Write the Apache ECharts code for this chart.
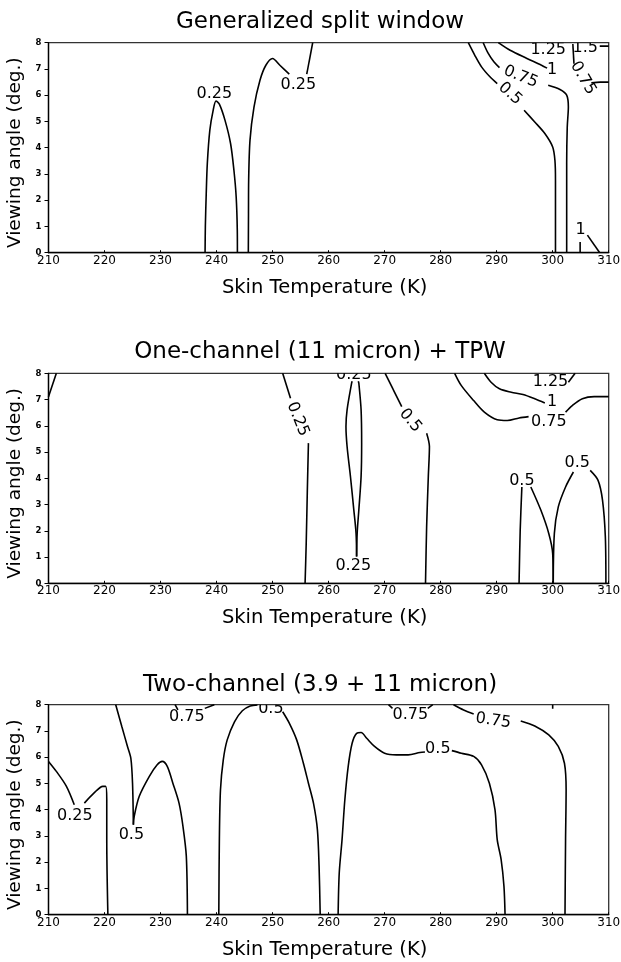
<!DOCTYPE html>
<html><head><meta charset="utf-8">
<script src="https://cdn.jsdelivr.net/npm/echarts@6/dist/echarts.min.js"></script>
<style>html,body{margin:0;padding:0;background:#fff}#c{width:621px;height:962px}</style>
</head><body><div id="c"></div>
<script>
// ---- texts & ticks ----
const panelTitles = ['Generalized split window', 'One-channel (11 micron) + TPW', 'Two-channel (3.9 + 11 micron)'];
const xAxisName = 'Skin Temperature (K)';
const yAxisName = 'Viewing angle (deg.)';
const xTicks = [210, 220, 230, 240, 250, 260, 270, 280, 290, 300, 310];
const yTicks = [0, 1, 2, 3, 4, 5, 6, 7, 8];

// ---- panel 1 contour polylines [skinT, angle] ----
const p1_a = [[237.95,0],[238.0,1.0],[238.15,2.2],[238.35,3.4],[238.8,4.67],[239.4,5.43],[239.9,5.78],[240.5,5.66],[241.5,5.05],[242.5,4.16],[243.1,3.14],[243.5,2.13],[243.7,0.86],[243.72,0]];
const p1_b = [[245.67,0],[245.7,1.5],[245.73,2.76],[245.97,4.29],[246.68,5.55],[247.75,6.57],[248.8,7.14],[250.0,7.40],[251.3,7.14],[252.98,6.80]];
const p1_c = [[256.1,6.80],[257.16,8]];
const p1_d = [[284.94,8],[286.1,7.52],[287.3,7.08],[288.8,6.70],[290.1,6.44]];
const p1_e = [[294.9,5.43],[296.8,4.98],[298.6,4.54],[300.0,4.03],[300.4,3.52],[300.5,2.76],[300.5,0]];
const p1_f = [[287.6,8],[288.5,7.59],[289.5,7.27],[290.5,7.05]];
const p1_g = [[299.2,6.38],[301.3,6.22],[302.5,6.0],[302.8,5.55],[302.6,4.79],[302.5,3.40],[302.5,0]];
const p1_h = [[290.3,8],[292.4,7.71],[295.4,7.40],[298.0,7.14],[299.0,7.03]];
const p1_i = [[303.6,7.95],[303.8,7.2]];
const p1_j = [[306.9,6.47],[308.5,6.5],[310,6.5]];
const p1_k = [[308.4,7.87],[310,7.87]];
const p1_l = [[304.9,0],[304.9,0.41]];
const p1_m = [[306.2,0.67],[308.4,0]];
const p1Lines = [p1_a,p1_b,p1_c,p1_d,p1_e,p1_f,p1_g,p1_h,p1_i,p1_j,p1_k,p1_l,p1_m];
// labels: [skinT, angle, text, rotationDeg]
const p1Labels = [[239.6,6.06,'0.25',0],[254.6,6.38,'0.25',0],[292.4,6.06,'0.5',-42],[294.3,6.7,'0.75',-22],[299.9,6.98,'1',0],[299.2,7.72,'1.25',0],[305.8,7.8,'1.5',0],[305.4,6.65,'0.75',-60],[305.0,0.86,'1',0]];

// ---- panel 2 ----
const p2_a = [[210,7.11],[211.4,8]];
const p2_b = [[251.8,8],[253.2,7.05]];
const p2_c = [[256.4,5.34],[256.2,3.5],[256.0,1.5],[255.8,0]];
const p2_d = [[264.2,7.7],[264.1,7.62],[263.3,6.61],[263.1,5.97],[263.3,5.21],[263.9,4.07],[264.5,2.80],[264.9,1.91],[265.0,1.02]];
const p2_e = [[265.3,7.7],[265.4,7.62],[265.8,6.61],[265.9,5.34],[265.8,4.07],[265.4,2.80],[265.1,1.91],[265.0,1.02]];
const p2_f = [[270.1,8],[273.05,6.73]];
const p2_g = [[277.5,5.72],[278.0,5.21],[277.8,4.07],[277.5,2.16],[277.3,0]];
const p2_h = [[282.5,8],[283.7,7.53],[285.9,6.96],[287.8,6.52],[290.1,6.23],[291.9,6.20],[294.0,6.30],[295.7,6.35]];
const p2_i = [[302.3,6.52],[303.5,6.77],[305.3,7.03],[307.4,7.11],[310,7.11]];
const p2_j = [[287.8,8],[289.0,7.66],[290.5,7.41],[292.6,7.28],[294.7,7.19],[296.8,7.03],[298.6,6.87]];
const p2_k = [[302.8,7.66],[304.0,8]];
const p2_l = [[294.0,0],[294.2,2.0],[294.5,3.67]];
const p2_m = [[296.1,3.67],[297.9,2.78],[299.3,1.90],[300.0,1.14],[300.1,0]];
const p2_n = [[300.1,0],[300.3,1.90],[301.0,2.91],[302.3,3.67],[303.7,4.24]];
const p2_o = [[306.7,4.30],[308.1,3.92],[308.9,3.16],[309.4,1.77],[309.5,0]];
const p2Lines = [p2_a,p2_b,p2_c,p2_d,p2_e,p2_f,p2_g,p2_h,p2_i,p2_j,p2_k,p2_l,p2_m,p2_n,p2_o];
const p2Labels = [[254.5,6.25,'0.25',-68],[264.5,7.93,'0.25',0],[264.4,0.67,'0.25',0],[274.6,6.2,'0.5',-50],[299.6,7.66,'1.25',0],[299.9,6.90,'1',0],[299.3,6.14,'0.75',0],[294.5,3.92,'0.5',0],[304.4,4.58,'0.5',0]];

// ---- panel 3 ----
const p3_a = [[210,5.84],[211.4,5.46],[213.2,4.89],[214.6,4.19]];
const p3_b = [[216.4,4.25],[218.1,4.63],[219.7,4.89],[220.2,4.89],[220.4,4.38],[220.4,2.86],[220.6,0]];
const p3_c = [[222.0,8],[223.1,7.16],[224.1,6.41],[224.7,5.96],[225.0,5.01],[225.15,3.43]];
const p3_c2 = [[225.15,3.43],[225.3,3.75],[226.2,4.51],[228.0,5.27],[229.4,5.71],[230.3,5.84],[231.2,5.65],[232.2,5.01],[233.3,4.25],[234.0,3.37],[234.6,2.23],[234.8,0]];
const p3_d = [[232.6,8],[233.1,7.8]];
const p3_e = [[237.9,7.86],[239.6,8]];
const p3_f = [[240.4,0],[240.5,2.86],[240.7,4.76],[241.2,5.90],[241.9,6.66],[243.2,7.35],[244.6,7.77],[246.0,7.95],[247.3,7.99]];
const p3_g = [[251.8,7.73],[253.0,7.29],[254.3,6.66],[255.5,5.77],[256.4,5.01],[257.3,4.25],[258.0,3.24],[258.3,1.85],[258.5,0]];
const p3_h = [[261.7,0],[261.9,1.59],[262.4,2.86],[262.9,4.38],[263.5,5.65],[264.2,6.53],[265.0,6.91],[265.8,6.94],[266.8,6.72],[268.2,6.41],[270.0,6.15],[272.1,6.09],[274.2,6.09],[276.3,6.18],[277.2,6.2]];
const p3_i = [[282.0,6.25],[283.7,6.15],[285.9,6.03],[287.3,5.71],[288.7,5.01],[289.7,4.0],[290.1,2.86],[290.8,2.10],[291.3,1.09],[291.5,0]];
const p3_j = [[270.7,8],[271.4,7.86]];
const p3_k = [[277.7,7.86],[278.6,8]];
const p3_l = [[282.3,8],[284.1,7.8],[285.9,7.65]];
const p3_m = [[294.3,7.38],[296.8,7.19],[299.3,6.85],[301.0,6.41],[302.1,5.77],[302.4,4.76],[302.3,2.86],[302.2,0]];
const p3_n = [[300.0,8],[300.0,7.85]];
const p3Lines = [p3_a,p3_b,p3_c,p3_c2,p3_d,p3_e,p3_f,p3_g,p3_h,p3_i,p3_j,p3_k,p3_l,p3_m,p3_n];
const p3Labels = [[214.7,3.77,'0.25',0],[224.8,3.05,'0.5',0],[234.7,7.52,'0.75',0],[249.7,7.86,'0.5',0],[274.6,7.61,'0.75',0],[279.5,6.32,'0.5',0],[289.4,7.39,'0.75',-8]];

const panels = [
  {lines: p1Lines, labels: p1Labels},
  {lines: p2Lines, labels: p2Labels},
  {lines: p3Lines, labels: p3Labels}
];

// ---- layout ----
const gridTops = [42.7, 373.3, 704.7];
const titleY = [22, 352.5, 685];
const FONT = '"DejaVu Sans", sans-serif';

const grids = [], xAxes = [], yAxes = [], series = [], graphics = [];
panels.forEach((p, i) => {
  grids.push({left: 48.5, right: 12.3, top: gridTops[i], height: 210, show: true,
    borderColor: '#333', borderWidth: 1.3, backgroundColor: 'transparent', outerBoundsMode: 'none', containLabel: false});
  xAxes.push({type: 'value', gridIndex: i, min: xTicks[0], max: xTicks[xTicks.length-1], interval: xTicks[1]-xTicks[0],
    name: xAxisName, nameLocation: 'middle', nameGap: 25,
    nameTextStyle: {fontFamily: FONT, fontSize: 19.5, color: '#000', padding: [0, 8, 0, 0]},
    axisLine: {show: true, onZero: false, lineStyle: {color: '#000', width: 1.3}},
    axisTick: {show: true, inside: true, length: 2.5, lineStyle: {color: '#000', width: 1}},
    axisLabel: {show: true, margin: 2, fontFamily: FONT, fontSize: 12, color: '#000', hideOverlap: false, showMinLabel: true, showMaxLabel: true},
    splitLine: {show: false}});
  yAxes.push({type: 'value', gridIndex: i, min: yTicks[0], max: yTicks[yTicks.length-1], interval: yTicks[1]-yTicks[0],
    name: yAxisName, nameLocation: 'middle', nameGap: 6,
    nameTextStyle: {fontFamily: FONT, fontSize: 18.5, color: '#000', padding: [0, 10, 0, 0]},
    axisLine: {show: true, onZero: false, lineStyle: {color: '#000', width: 1.3}},
    axisTick: {show: true, inside: false, length: 4, lineStyle: {color: '#000', width: 1}},
    axisLabel: {show: true, margin: 7, fontFamily: FONT, fontSize: 8.5, fontWeight: 'bold', color: '#000'},
    splitLine: {show: false}});
  p.lines.forEach(line => {
    series.push({type: 'line', xAxisIndex: i, yAxisIndex: i, data: line, symbol: 'none', smooth: 0.3,
      clip: true, silent: true, lineStyle: {color: '#000', width: 1.6}, z: 3});
  });
  const labs = p.labels;
  series.push({type: 'custom', xAxisIndex: i, yAxisIndex: i, clip: true, silent: true, z: 4,
    data: labs.map(d => [d[0], d[1]]),
    renderItem: (params, api) => {
      const pt = api.coord([api.value(0), api.value(1)]);
      const d = labs[params.dataIndex];
      return {type: 'text', x: pt[0], y: pt[1], rotation: d[3] * Math.PI / 180,
        style: {text: d[2], font: '16px ' + FONT, fill: '#000', align: 'center', verticalAlign: 'middle'}};
    }});
  graphics.push({type: 'text', x: 320, y: titleY[i],
    style: {text: panelTitles[i], font: '23px ' + FONT, fill: '#000', align: 'center', verticalAlign: 'middle'}});
});

const chart = echarts.init(document.getElementById('c'), null, {renderer: 'canvas'});
chart.setOption({
  animation: false,
  backgroundColor: '#fff',
  grid: grids, xAxis: xAxes, yAxis: yAxes, series: series, graphic: graphics
});
</script></body></html>
